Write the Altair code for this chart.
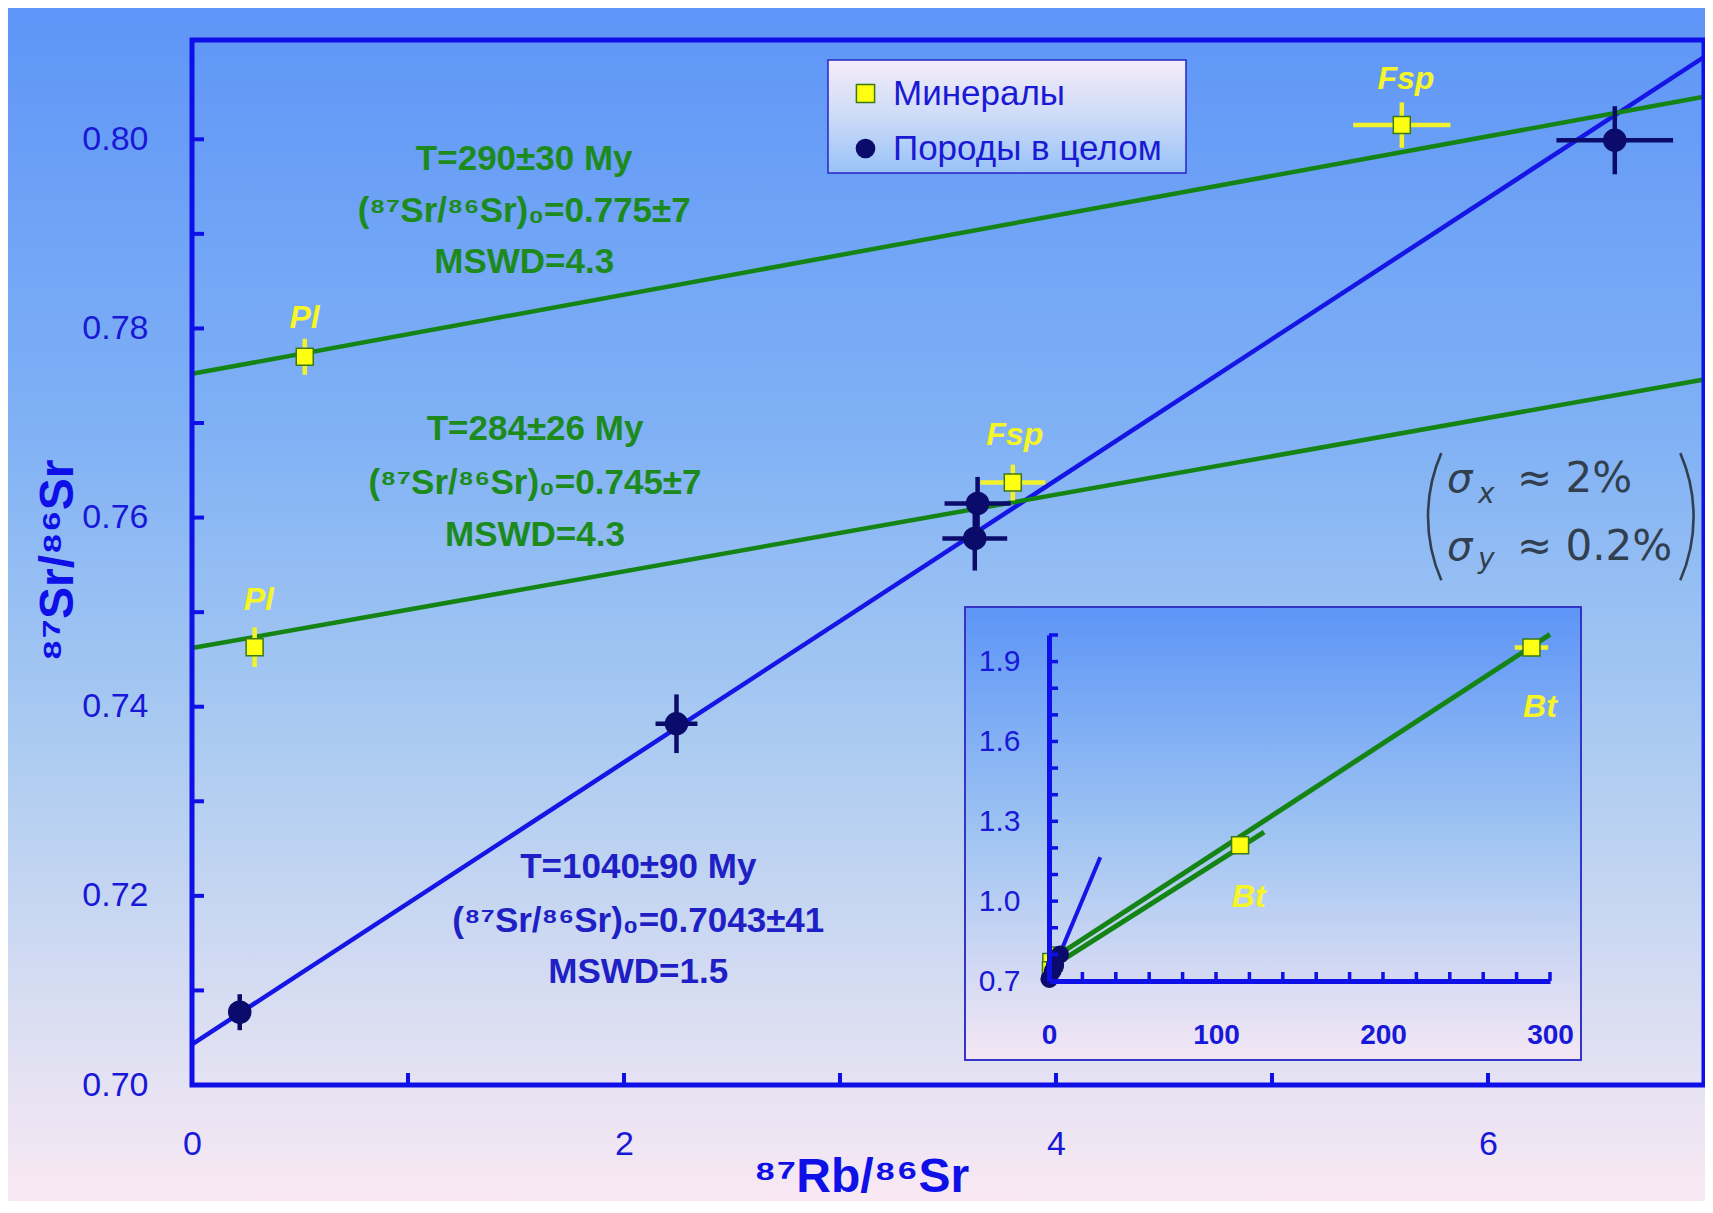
import altair as alt
import pandas as pd

# ---------------- chart values ----------------
KINDS = ["Минералы", "Породы в целом"]

mineral_x = [0.522, 0.290, 5.601, 3.800]
mineral_y = [0.7770, 0.7463, 0.8015, 0.7637]
mineral_err_x = [0.010, 0.010, 0.225, 0.150]
mineral_err_y = [0.0019, 0.0021, 0.0024, 0.0019]
mineral_names = ["Pl", "Pl", "Fsp", "Fsp"]
mineral_name_x = [0.521, 0.309, 5.620, 3.809]
mineral_name_y = [0.7811, 0.7513, 0.8064, 0.7687]

rock_x = [0.221, 2.243, 3.637, 3.624, 6.587]
rock_y = [0.7077, 0.7382, 0.7615, 0.7578, 0.7999]
rock_err_x = [0.020, 0.097, 0.153, 0.150, 0.270]
rock_err_y = [0.0019, 0.0031, 0.0028, 0.0034, 0.0036]

rock_iso_x = [0.0, 7.0]
rock_iso_y = [0.7043, 0.8087]
min_iso1_x = [0.0, 7.0]
min_iso1_y = [0.7752, 0.8045]
min_iso2_x = [0.0, 7.0]
min_iso2_y = [0.7462, 0.7746]

iso1_text = ["T=290±30 My", "(⁸⁷Sr/⁸⁶Sr)₀=0.775±7", "MSWD=4.3"]
iso2_text = ["T=284±26 My", "(⁸⁷Sr/⁸⁶Sr)₀=0.745±7", "MSWD=4.3"]
iso3_text = ["T=1040±90 My", "(⁸⁷Sr/⁸⁶Sr)₀=0.7043±41", "MSWD=1.5"]

x_tick_labels = [0, 2, 4, 6]
x_ticks = [1, 2, 3, 4, 5, 6]
y_tick_labels = [0.70, 0.72, 0.74, 0.76, 0.78, 0.80]
y_ticks = [0.71, 0.72, 0.73, 0.74, 0.75, 0.76, 0.77, 0.78, 0.79, 0.80]

X_TITLE = "⁸⁷Rb/⁸⁶Sr"
Y_TITLE = "⁸⁷Sr/⁸⁶Sr"

sigma_main = ["σ", "σ"]
sigma_sub = ["x", "y"]
sigma_val = ["≈ 2%", "≈ 0.2%"]

# inset
bt_x = [288.9, 114.4]
bt_y = [1.953, 1.210]
bt_err_x = [10.0, 1.0]
bt_names = ["Bt", "Bt"]
bt_name_x = [294.0, 119.6]
bt_name_y = [1.729, 1.014]
in_rock_iso_x = [0.0, 30.7]
in_rock_iso_y = [0.7043, 1.165]
in_min_iso1_x = [0.0, 300.0]
in_min_iso1_y = [0.7752, 2.002]
in_min_iso2_x = [0.0, 128.8]
in_min_iso2_y = [0.7462, 1.259]
in_x_tick_labels = [0, 100, 200, 300]
in_x_ticks = [20, 40, 60, 80, 100, 120, 140, 160, 180, 200, 220, 240, 260, 280, 300]
in_y_tick_labels = [0.7, 1.0, 1.3, 1.6, 1.9]
in_y_ticks = [0.8, 0.9, 1.0, 1.1, 1.2, 1.3, 1.4, 1.5, 1.6, 1.7, 1.8, 1.9, 2.0]

# ---------------- layout & style ----------------
W, H = 1512, 1045
PAD = {"left": 184, "top": 32, "right": 1, "bottom": 116}
ANN1 = (1.538, [0.7979, 0.7924, 0.7870])
ANN2 = (1.588, [0.7694, 0.7637, 0.7582])
ANN3 = (2.066, [0.7231, 0.7173, 0.7120])
SIG_X = {"main": 5.810, "sub": 5.954, "val": 6.134}
SIG_Y = {"main": [0.76267, 0.75547], "sub": [0.76150, 0.75463]}
PAREN_L = (6.457, 0.7601)
PAREN_R = (6.217, 0.7601)
PAREN_R_PX, PAREN_HALF = 160, 0.412
LEGEND_BOX = (636, 20, 994, 133)
INSET_BOX = (773, 567, 1389, 1020)
INSET_XR = [857, 1358]
INSET_YR = [941, 595]

FONT = "Liberation Sans"
FRAME = "#0f0fe8"
LABEL_BLUE = "#1818d8"
LINE_BLUE = "#1515e6"
GREEN = "#148414"
TEXT_GREEN = "#1c8a1c"
TEXT_BLUE = "#1f1fc6"
NAVY = "#0b0b6c"
YELLOW = "#ffff12"
YELLOW_BAR = "#f2f22c"
SQ_EDGE = "#3a7a16"
LABEL_YELLOW = "#f5f528"
SIGMA = "#323f4f"

BG_STOPS = [(0, "#5e95f7"), (0.35, "#80b1f5"), (0.6, "#a9caf1"), (0.85, "#dcdff2"), (1, "#fbe9f3")]
INSET_STOPS = [(0, "#5d95f7"), (0.5, "#9fc4f2"), (1, "#f4e7f4")]
LEGEND_STOPS = [(0, "#f5ecf9"), (0.5, "#cddbf8"), (1, "#98c2f8")]


def grad(stops):
    return {"gradient": "linear", "x1": 0, "y1": 0, "x2": 0, "y2": 1,
            "stops": [{"offset": o, "color": c} for o, c in stops]}


one = pd.DataFrame({"k": [0]})

# ---------------- main panel ----------------
xs_main = alt.Scale(domain=[0, 7], nice=False, zero=False)
ys_main = alt.Scale(domain=[0.70, 0.8105], nice=False, zero=False)
x_axis_main = alt.Axis(values=x_tick_labels, format="d", tickSize=0, domain=False, grid=False,
                       labelPadding=42, labelFontSize=34, labelColor=LABEL_BLUE, labelFont=FONT,
                       labelFlush=False, labelOverlap=False,
                       title=X_TITLE, titleFont=FONT, titleFontSize=48, titleFontWeight="bold",
                       titleColor=FRAME, titleX=669, titleY=106, titleAlign="center",
                       titleBaseline="alphabetic", zindex=1)
y_axis_main = alt.Axis(values=y_tick_labels, format=".2f", tickSize=0, domain=False, grid=False,
                       labelPadding=44, labelFontSize=34, labelColor=LABEL_BLUE, labelFont=FONT,
                       labelOverlap=False, labelFlush=False,
                       title=Y_TITLE, titleFont=FONT, titleFontSize=48, titleFontWeight="bold",
                       titleColor=FRAME, titleX=-120, titleY=520, titleAngle=270, titleAlign="center",
                       titleBaseline="alphabetic", zindex=1)

bg = alt.Chart(one).mark_rect(fill=grad(BG_STOPS), strokeWidth=0).encode(
    x=alt.value(-PAD["left"]), x2=alt.value(W + PAD["right"] + 10),
    y=alt.value(-PAD["top"]), y2=alt.value(H + PAD["bottom"] + 10))

legend_bg = alt.Chart(one).mark_rect(fill=grad(LEGEND_STOPS), stroke="#2626c8", strokeWidth=1.5).encode(
    x=alt.value(LEGEND_BOX[0]), x2=alt.value(LEGEND_BOX[2]),
    y=alt.value(LEGEND_BOX[1]), y2=alt.value(LEGEND_BOX[3]))


def seg(xv, yv):
    return pd.DataFrame({"x": xv, "y": yv})


line_rock = alt.Chart(seg(rock_iso_x, rock_iso_y)).mark_line(color=LINE_BLUE, strokeWidth=4.5).encode(
    x=alt.X("x:Q", scale=xs_main, axis=x_axis_main),
    y=alt.Y("y:Q", scale=ys_main, axis=y_axis_main))
line_min1 = alt.Chart(seg(min_iso1_x, min_iso1_y)).mark_line(color=GREEN, strokeWidth=4.5).encode(
    x="x:Q", y="y:Q")
line_min2 = alt.Chart(seg(min_iso2_x, min_iso2_y)).mark_line(color=GREEN, strokeWidth=4.5).encode(
    x="x:Q", y="y:Q")

min_df = pd.DataFrame({"x": mineral_x, "y": mineral_y, "ex": mineral_err_x, "ey": mineral_err_y,
                       "kind": KINDS[0]})
rock_df = pd.DataFrame({"x": rock_x, "y": rock_y, "ex": rock_err_x, "ey": rock_err_y,
                        "kind": KINDS[1]})


def err_layers(df, color):
    base = alt.Chart(df).transform_calculate(
        xlo="datum.x - datum.ex", xhi="datum.x + datum.ex",
        ylo="datum.y - datum.ey", yhi="datum.y + datum.ey")
    ex = base.mark_rule(color=color, strokeWidth=4.5).encode(x="xlo:Q", x2=alt.X2("xhi"), y="y:Q")
    ey = base.mark_rule(color=color, strokeWidth=4.5).encode(y="ylo:Q", y2=alt.Y2("yhi"), x="x:Q")
    return [ex, ey]


leg = alt.Legend(title=None, orient="none", legendX=LEGEND_BOX[0], legendY=LEGEND_BOX[1])
fill_sc = alt.Scale(domain=KINDS, range=[YELLOW, NAVY])
stroke_sc = alt.Scale(domain=KINDS, range=[SQ_EDGE, NAVY])
shape_sc = alt.Scale(domain=KINDS, range=["square", "circle"])


def pts(df, size):
    return alt.Chart(df).mark_point(filled=True, size=size, strokeWidth=1.5, opacity=1).encode(
        x="x:Q", y="y:Q",
        fill=alt.Fill("kind:N", scale=fill_sc, legend=leg),
        stroke=alt.Stroke("kind:N", scale=stroke_sc, legend=leg),
        shape=alt.Shape("kind:N", scale=shape_sc, legend=leg))


pts_min = pts(min_df, 289)
pts_rock = pts(rock_df, 484)

names_df = pd.DataFrame({"x": mineral_name_x, "y": mineral_name_y, "t": mineral_names})
names = alt.Chart(names_df).mark_text(font=FONT, fontSize=32, fontStyle="italic", fontWeight="bold",
                                      color=LABEL_YELLOW, baseline="middle").encode(
    x="x:Q", y="y:Q", text="t:N")


def ann(pos, lines, color):
    df = pd.DataFrame({"x": [pos[0]] * len(lines), "y": pos[1], "t": lines})
    return alt.Chart(df).mark_text(font=FONT, fontSize=35, fontWeight="bold", color=color,
                                   baseline="middle", align="center").encode(
        x="x:Q", y="y:Q", text="t:N")


ann1 = ann(ANN1, iso1_text, TEXT_GREEN)
ann2 = ann(ANN2, iso2_text, TEXT_GREEN)
ann3 = ann(ANN3, iso3_text, TEXT_BLUE)

sig_main = alt.Chart(pd.DataFrame({"x": [SIG_X["main"]] * 2, "y": SIG_Y["main"], "t": sigma_main})).mark_text(
    font="DejaVu Sans", fontSize=40, fontStyle="italic", color=SIGMA, align="left",
    baseline="alphabetic").encode(x="x:Q", y="y:Q", text="t:N")
sig_sub = alt.Chart(pd.DataFrame({"x": [SIG_X["sub"]] * 2, "y": SIG_Y["sub"], "t": sigma_sub})).mark_text(
    font="DejaVu Sans", fontSize=28, fontStyle="italic", color=SIGMA, align="left",
    baseline="alphabetic").encode(x="x:Q", y="y:Q", text="t:N")
sig_val = alt.Chart(pd.DataFrame({"x": [SIG_X["val"]] * 2, "y": SIG_Y["main"], "t": sigma_val})).mark_text(
    font="DejaVu Sans", fontSize=42, color=SIGMA, align="left",
    baseline="alphabetic").encode(x="x:Q", y="y:Q", text="t:N")
paren_l = alt.Chart(pd.DataFrame({"x": [PAREN_L[0]], "y": [PAREN_L[1]]})).mark_arc(
    radius=PAREN_R_PX, radius2=PAREN_R_PX - 2.6, theta=4.712 - PAREN_HALF, theta2=4.712 + PAREN_HALF,
    fill=SIGMA).encode(x="x:Q", y="y:Q")
paren_r = alt.Chart(pd.DataFrame({"x": [PAREN_R[0]], "y": [PAREN_R[1]]})).mark_arc(
    radius=PAREN_R_PX, radius2=PAREN_R_PX - 2.6, theta=1.571 - PAREN_HALF, theta2=1.571 + PAREN_HALF,
    fill=SIGMA).encode(x="x:Q", y="y:Q")

frame = alt.Chart(one).mark_rect(fillOpacity=0, stroke=FRAME, strokeWidth=5).encode(
    x=alt.value(0), x2=alt.value(W), y=alt.value(0), y2=alt.value(H))
xt = alt.Chart(pd.DataFrame({"v": x_ticks})).mark_rule(color=FRAME, strokeWidth=4, y2Offset=-12).encode(
    x="v:Q", y=alt.datum(0.70), y2=alt.datum(0.70))
yt = alt.Chart(pd.DataFrame({"v": y_ticks})).mark_rule(color=FRAME, strokeWidth=4, x2Offset=12).encode(
    y="v:Q", x=alt.datum(0), x2=alt.datum(0))

main = alt.layer(
    bg, legend_bg, line_rock, line_min1, line_min2,
    *err_layers(min_df, YELLOW_BAR), *err_layers(rock_df, NAVY),
    pts_min, pts_rock, names, ann1, ann2, ann3,
    paren_l, paren_r, sig_main, sig_sub, sig_val, frame, xt, yt)

# ---------------- inset panel ----------------
xs_in = alt.Scale(domain=[0, 300], range=INSET_XR, nice=False, zero=False)
ys_in = alt.Scale(domain=[0.7, 2.0], range=INSET_YR, nice=False, zero=False)
x_axis_in = alt.Axis(orient="bottom", offset=INSET_YR[0] - H, values=in_x_tick_labels, format="d",
                     tickSize=0, domain=True, domainColor=FRAME, domainWidth=5, grid=False,
                     labelFont=FONT, labelFontSize=28, labelFontWeight="bold", labelColor=LABEL_BLUE,
                     labelPadding=40, labelFlush=False, labelOverlap=False, title=None, zindex=1)
y_axis_in = alt.Axis(orient="left", offset=-INSET_XR[0], values=in_y_tick_labels, format=".1f",
                     tickSize=0, domain=True, domainColor=FRAME, domainWidth=5, grid=False,
                     labelFont=FONT, labelFontSize=30, labelColor=LABEL_BLUE,
                     labelPadding=29, labelFlush=False, labelOverlap=False, title=None, zindex=1)

inset_bg = alt.Chart(one).mark_rect(fill=grad(INSET_STOPS), stroke="#3434c8", strokeWidth=2).encode(
    x=alt.value(INSET_BOX[0]), x2=alt.value(INSET_BOX[2]),
    y=alt.value(INSET_BOX[1]), y2=alt.value(INSET_BOX[3]))

in_line_rock = alt.Chart(seg(in_rock_iso_x, in_rock_iso_y)).mark_line(color=LINE_BLUE, strokeWidth=4).encode(
    x=alt.X("x:Q", scale=xs_in, axis=x_axis_in),
    y=alt.Y("y:Q", scale=ys_in, axis=y_axis_in))
in_line_min1 = alt.Chart(seg(in_min_iso1_x, in_min_iso1_y)).mark_line(color=GREEN, strokeWidth=5).encode(
    x="x:Q", y="y:Q")
in_line_min2 = alt.Chart(seg(in_min_iso2_x, in_min_iso2_y)).mark_line(color=GREEN, strokeWidth=5).encode(
    x="x:Q", y="y:Q")

bt_df = pd.DataFrame({"x": bt_x, "y": bt_y, "ex": bt_err_x})
in_bt_err = alt.Chart(bt_df).transform_calculate(
    xlo="datum.x - datum.ex", xhi="datum.x + datum.ex").mark_rule(color=YELLOW_BAR, strokeWidth=4.5).encode(
    x="xlo:Q", x2=alt.X2("xhi"), y="y:Q")
in_min_pts = alt.Chart(min_df).mark_point(filled=True, shape="square", size=196, fill=YELLOW,
                                          stroke=SQ_EDGE, strokeWidth=1.5, opacity=1).encode(
    x="x:Q", y="y:Q")
in_bt_pts = alt.Chart(bt_df).mark_point(filled=True, shape="square", size=289, fill=YELLOW,
                                        stroke=SQ_EDGE, strokeWidth=1.5, opacity=1).encode(
    x="x:Q", y="y:Q")
in_rock_pts = alt.Chart(rock_df).mark_point(filled=True, shape="circle", size=256, fill=NAVY,
                                            stroke=NAVY, opacity=1).encode(x="x:Q", y="y:Q")
in_names = alt.Chart(pd.DataFrame({"x": bt_name_x, "y": bt_name_y, "t": bt_names})).mark_text(
    font=FONT, fontSize=32, fontStyle="italic", fontWeight="bold", color=LABEL_YELLOW,
    baseline="middle").encode(x="x:Q", y="y:Q", text="t:N")
in_xt = alt.Chart(pd.DataFrame({"v": in_x_ticks})).mark_rule(color=FRAME, strokeWidth=3.5, y2Offset=-9).encode(
    x="v:Q", y=alt.datum(0.7), y2=alt.datum(0.7))
in_yt = alt.Chart(pd.DataFrame({"v": in_y_ticks})).mark_rule(color=FRAME, strokeWidth=3.5, x2Offset=9).encode(
    y="v:Q", x=alt.datum(0), x2=alt.datum(0))

inset = alt.layer(inset_bg, in_line_rock, in_line_min1, in_line_min2, in_bt_err,
                  in_min_pts, in_bt_pts, in_rock_pts, in_names, in_xt, in_yt)

chart = alt.layer(main, inset).resolve_scale(x="independent", y="independent").properties(
    width=W, height=H, padding=PAD, autosize=alt.AutoSizeParams(type="none"),
    background="#f7e8f3"
).configure_view(strokeWidth=0).configure_legend(
    labelFont=FONT, labelFontSize=35, labelColor="#1a1ad4", padding=16, symbolOffset=4,
    labelOffset=10, rowPadding=19, symbolSize=330, symbolStrokeWidth=1.5, labelLimit=600
)

chart.save("out.html", embed_options={"renderer": "svg", "actions": False})
